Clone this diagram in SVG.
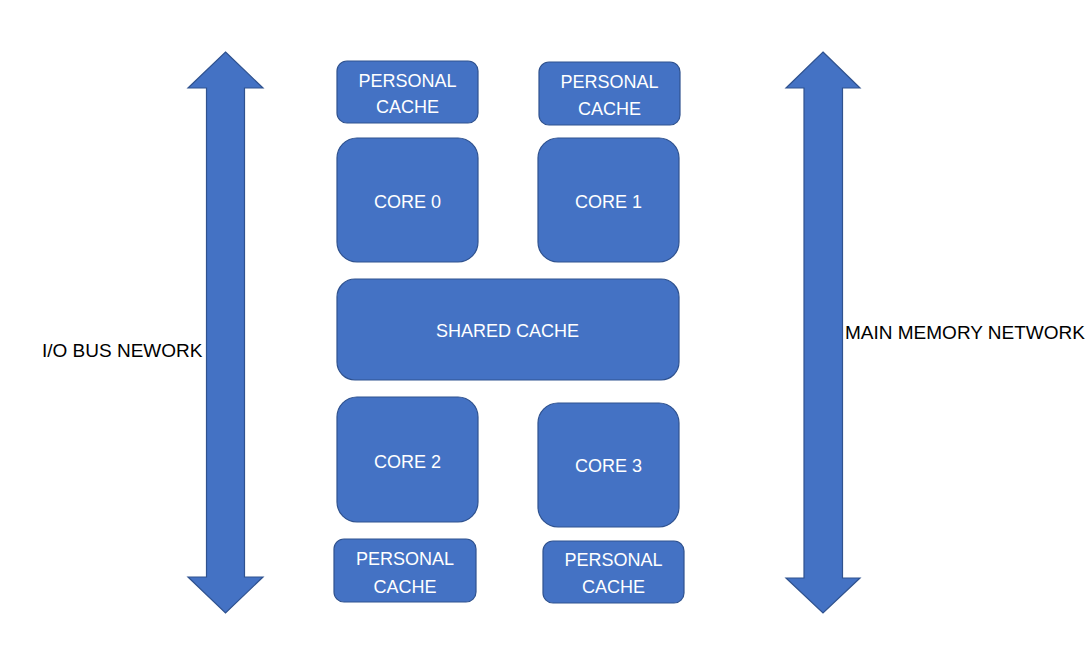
<svg xmlns="http://www.w3.org/2000/svg" width="1090" height="654" viewBox="0 0 1090 654">
<style>
.box{fill:#4472C4;stroke:#2F528F;stroke-width:1.2}
.arrow{fill:#4472C4;stroke:#2F528F;stroke-width:1.2;stroke-linejoin:miter}
.w{fill:#FFFFFF;font-family:"Liberation Sans",Arial,sans-serif;font-size:18px;text-anchor:middle}
.k{fill:#000000;font-family:"Liberation Sans",Arial,sans-serif;font-size:19px}
</style>
<rect x="0" y="0" width="1090" height="654" fill="#FFFFFF"/>
<g id="connectors">
<path class="arrow" d="M225.5,52 L263,88 L244.5,88 L244.5,577 L263,577 L225.5,613 L188,577 L206.5,577 L206.5,88 L188,88 Z"/>
<path class="arrow" d="M823,52 L860,88 L842.5,88 L842.5,578 L860,578 L823,613 L786,578 L804,578 L804,88 L786,88 Z"/>
</g>
<g id="io-label"><text class="k" x="42" y="357">I/O BUS NEWORK</text></g>
<g id="mem-label"><text class="k" x="845" y="339">MAIN MEMORY NETWORK</text></g>
<g id="pc0"><rect class="box" x="337" y="61" width="141" height="62" rx="10"/><text class="w" x="407.5" y="87">PERSONAL</text><text class="w" x="407.5" y="113">CACHE</text></g>
<g id="pc1"><rect class="box" x="539" y="62" width="141" height="63" rx="10"/><text class="w" x="609.5" y="88">PERSONAL</text><text class="w" x="609.5" y="115">CACHE</text></g>
<g id="core0"><rect class="box" x="337" y="138" width="141" height="124" rx="20"/><text class="w" x="407.5" y="208">CORE 0</text></g>
<g id="core1"><rect class="box" x="538" y="138" width="141" height="124" rx="20"/><text class="w" x="608.5" y="208">CORE 1</text></g>
<g id="shared"><rect class="box" x="337" y="279" width="342" height="101" rx="18"/><text class="w" x="507.5" y="337">SHARED CACHE</text></g>
<g id="core2"><rect class="box" x="337" y="397" width="141" height="125" rx="20"/><text class="w" x="407.5" y="468">CORE 2</text></g>
<g id="core3"><rect class="box" x="538" y="403" width="141" height="124" rx="20"/><text class="w" x="608.5" y="472">CORE 3</text></g>
<g id="pc2"><rect class="box" x="334" y="539" width="142" height="63" rx="10"/><text class="w" x="405" y="565">PERSONAL</text><text class="w" x="405" y="593">CACHE</text></g>
<g id="pc3"><rect class="box" x="543" y="541" width="141" height="62" rx="10"/><text class="w" x="613.5" y="566">PERSONAL</text><text class="w" x="613.5" y="593">CACHE</text></g>
</svg>
